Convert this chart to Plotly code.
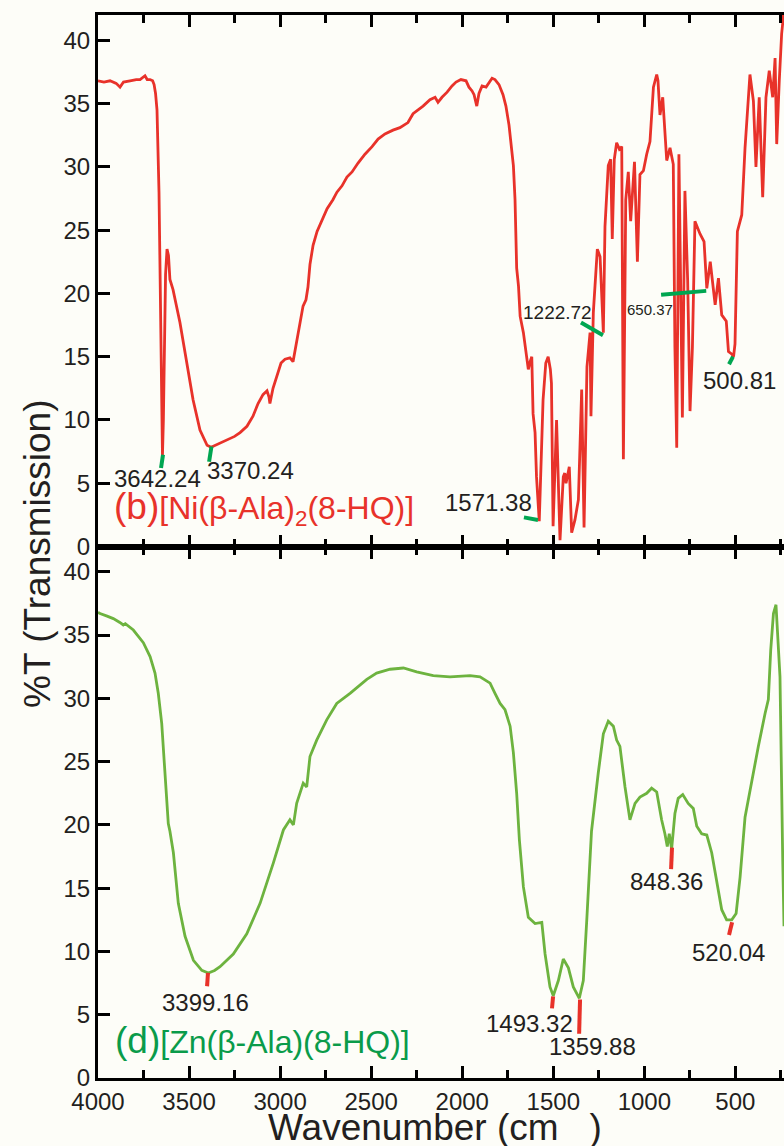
import plotly.graph_objects as go

# ---------------- data ----------------
ni_wavenumber = [4000, 3967, 3934, 3900, 3879, 3860, 3824, 3790, 3769, 3742, 3730, 3714, 3700, 3692, 3684,
                 3676, 3665, 3657, 3651, 3646, 3641, 3636, 3629, 3621, 3613, 3605, 3588, 3572, 3550, 3530,
                 3511, 3478, 3440, 3401, 3379, 3357, 3330, 3292, 3250, 3220, 3182, 3149, 3121, 3094, 3072,
                 3061, 3056, 3039, 3017, 2995, 2973, 2946, 2929, 2913, 2896, 2874, 2858, 2847, 2836, 2819,
                 2797, 2770, 2742, 2710, 2688, 2660, 2633, 2605, 2572, 2534, 2495, 2462, 2424, 2380, 2342,
                 2298, 2270, 2215, 2177, 2149, 2133, 2111, 2083, 2056, 2034, 2007, 1979, 1963, 1946, 1935,
                 1920, 1908, 1891, 1869, 1853, 1836, 1820, 1798, 1776, 1760, 1743, 1729, 1719, 1710, 1704,
                 1701, 1691, 1682, 1664, 1646, 1637, 1627, 1618, 1611, 1600, 1592, 1577, 1556, 1541, 1528,
                 1516, 1510, 1501, 1482, 1463, 1445, 1437, 1430, 1412, 1399, 1381, 1362, 1344, 1331, 1315,
                 1298, 1293, 1280, 1271, 1258, 1243, 1234, 1225, 1216, 1198, 1185, 1176, 1165, 1152, 1137,
                 1124, 1115, 1102, 1088, 1075, 1054, 1038, 1024, 1005, 987, 969, 950, 932, 925, 914,
                 899, 877, 859, 841, 832, 822, 810, 799, 791, 777, 762, 749, 736, 722, 694,
                 672, 657, 638, 611, 593, 575, 550, 538, 519, 510, 502, 489, 465, 447, 420,
                 401, 387, 369, 350, 332, 314, 295, 282, 273, 259, 246, 237, 230]
ni_transmission = [36.8, 36.7, 36.8, 36.6, 36.3, 36.7, 36.8, 36.9, 36.9, 37.2, 36.9, 36.9, 36.8, 36.5, 35.8,
                   34.5, 28.0, 18.0, 9.0, 7.2, 10.0, 15.5, 21.5, 23.5, 23.0, 21.1, 20.3, 19.2, 17.7, 16.0,
                   14.5, 11.6, 9.2, 8.0, 7.85, 8.0, 8.2, 8.4, 8.7, 9.0, 9.5, 10.3, 11.3, 12.0, 12.3,
                   11.8, 11.3, 12.5, 13.5, 14.5, 14.8, 14.9, 14.6, 15.8, 17.3, 19.0, 19.5, 20.5, 22.3, 23.8,
                   24.9, 25.8, 26.7, 27.4, 28.0, 28.5, 29.2, 29.6, 30.3, 31.0, 31.6, 32.2, 32.6, 32.9, 33.1,
                   33.5, 34.2, 34.8, 35.3, 35.5, 35.1, 35.5, 35.9, 36.4, 36.7, 36.9, 36.8, 36.3, 36.0, 35.7,
                   34.8, 35.8, 36.4, 36.3, 36.6, 37.0, 36.9, 36.5, 35.7, 34.8, 33.3, 31.5, 30.1, 27.4, 24.8,
                   22.0, 20.6, 18.2, 16.9, 15.0, 14.0, 14.6, 15.0, 10.5, 9.0, 5.5, 2.0, 11.6, 14.5, 15.0,
                   14.0, 12.9, 1.6, 10.0, 0.5, 5.5, 5.8, 5.0, 6.3, 1.1, 2.1, 3.7, 12.4, 1.5, 14.2,
                   16.9, 10.3, 18.5, 20.6, 23.5, 22.9, 19.5, 16.9, 25.3, 30.1, 30.6, 24.3, 30.6, 31.9, 31.4,
                   31.6, 6.9, 27.4, 29.6, 25.7, 30.4, 22.5, 29.4, 29.7, 31.0, 32.0, 36.3, 37.3, 36.8, 34.1,
                   35.5, 30.5, 31.5, 30.2, 15.7, 7.8, 31.0, 18.3, 10.2, 28.1, 21.0, 10.7, 15.7, 25.7, 24.7,
                   24.1, 20.4, 22.5, 19.1, 21.2, 18.3, 17.8, 15.4, 15.2, 15.0, 16.0, 24.9, 26.2, 31.5, 37.3,
                   35.2, 30.0, 35.5, 27.6, 35.5, 37.6, 35.5, 38.6, 31.8, 36.8, 40.5, 41.8, 43.0]

zn_wavenumber = [4000, 3989, 3950, 3916, 3880, 3861, 3850, 3806, 3751, 3714, 3687, 3669, 3650, 3632, 3614,
                 3605, 3586, 3559, 3522, 3476, 3430, 3394, 3360, 3330, 3257, 3183, 3110, 3037, 2982, 2946,
                 2927, 2909, 2873, 2854, 2836, 2799, 2744, 2689, 2616, 2524, 2470, 2396, 2342, 2323, 2250,
                 2159, 2067, 1957, 1902, 1847, 1820, 1792, 1765, 1737, 1719, 1701, 1686, 1664, 1637, 1600,
                 1563, 1545, 1518, 1500, 1472, 1445, 1417, 1390, 1357, 1335, 1316, 1298, 1290, 1253, 1225,
                 1198, 1170, 1152, 1134, 1106, 1079, 1051, 1024, 987, 960, 932, 905, 887, 874, 863,
                 850, 832, 814, 789, 759, 731, 712, 685, 657, 630, 603, 575, 548, 520, 496,
                 474, 447, 410, 374, 337, 319, 306, 291, 277, 264, 255, 240, 233]
zn_transmission = [36.8, 36.7, 36.5, 36.3, 36.0, 35.8, 35.9, 35.4, 34.4, 33.3, 32.0, 30.4, 28.0, 24.1, 20.1,
                   19.5, 17.8, 13.8, 11.2, 9.3, 8.5, 8.3, 8.5, 8.8, 9.8, 11.4, 13.8, 17.0, 19.6, 20.4,
                   20.0, 21.7, 23.3, 23.0, 25.4, 26.7, 28.3, 29.6, 30.4, 31.5, 32.0, 32.3, 32.4, 32.4, 32.1,
                   31.8, 31.7, 31.8, 31.7, 31.2, 30.4, 29.6, 29.1, 27.8, 25.7, 22.5, 18.8, 15.1, 12.7, 12.2,
                   12.3, 9.8, 7.2, 6.5, 7.7, 9.4, 8.7, 7.2, 6.3, 7.7, 12.5, 17.8, 19.5, 24.1, 27.2,
                   28.2, 27.8, 26.7, 26.2, 23.0, 20.4, 21.7, 22.2, 22.5, 22.9, 22.6, 20.4, 19.3, 18.3, 19.3,
                   18.1, 20.9, 22.1, 22.4, 21.7, 21.3, 19.9, 19.3, 19.2, 17.8, 15.6, 13.3, 12.5, 12.5, 13.0,
                   15.9, 20.6, 23.6, 26.2, 28.8, 29.9, 33.8, 36.7, 37.4, 34.4, 31.7, 17.2, 12.0]

x_tick_values = [4000, 3500, 3000, 2500, 2000, 1500, 1000, 500]
x_tick_labels = ["4000", "3500", "3000", "2500", "2000", "1500", "1000", "500"]
y_tick_values = [0, 5, 10, 15, 20, 25, 30, 35, 40]

ni_peak_labels = ["3642.24", "3370.24", "1571.38", "1222.72", "650.37", "500.81"]
zn_peak_labels = ["3399.16", "1493.32", "1359.88", "848.36", "520.04"]

# ---------------- styles ----------------
RED = "#e8322a"
GREEN = "#6db33f"
DARK_GREEN = "#0a9b4a"
MARK_GREEN = "#00a651"
INK = "#231f20"
BG = "#fdfdf8"
FONT = "Liberation Sans, Arial, sans-serif"

fig = go.Figure()
fig.add_trace(go.Scatter(x=ni_wavenumber, y=ni_transmission, mode="lines",
                         line=dict(color=RED, width=2.8), xaxis="x", yaxis="y",
                         showlegend=False, hoverinfo="skip"))
fig.add_trace(go.Scatter(x=zn_wavenumber, y=zn_transmission, mode="lines",
                         line=dict(color=GREEN, width=2.8), xaxis="x2", yaxis="y2",
                         showlegend=False, hoverinfo="skip"))

axis_common = dict(showline=True, linewidth=3, linecolor="black", ticks="inside",
                   tickwidth=3, tickcolor="black", showgrid=False, zeroline=False)

xcommon = dict(axis_common, range=[4000, 233], tickvals=x_tick_values, ticktext=x_tick_labels,
               ticklen=12, mirror="ticks",
               minor=dict(dtick=250, tick0=0, ticklen=8, tickwidth=3, ticks="inside", tickcolor="black"))
ycommon = dict(axis_common, range=[0, 42], tickvals=y_tick_values, ticklen=12,
               tickfont=dict(family=FONT, size=24, color=INK))

fig.update_layout(
    width=784, height=1146,
    margin=dict(l=98, r=0, t=15, b=68),
    paper_bgcolor=BG, plot_bgcolor=BG,
    font=dict(family=FONT, color=INK),
    xaxis=dict(xcommon, anchor="y", showticklabels=False),
    yaxis=dict(ycommon, domain=[0.5, 1], anchor="x"),
    xaxis2=dict(xcommon, anchor="y2", matches="x", showticklabels=True,
                tickfont=dict(family=FONT, size=24, color=INK)),
    yaxis2=dict(ycommon, domain=[0, 0.5], anchor="x2"),
)

# peak leader segments: (x0, y0, x1, y1) in data units
ni_marks = [(3643, 7.25, 3654, 6.2), (3377, 7.9, 3390, 6.7), (1661, 2.3, 1584, 2.1),
            (1348, 17.7, 1227, 16.7), (908, 19.9, 660, 20.2), (535, 14.4, 513, 15.0)]
zn_marks = [(3396, 8.3, 3401, 7.25), (1501, 6.45, 1507, 5.5), (1353, 6.2, 1358, 3.5),
            (848, 18.2, 853, 16.5), (518, 12.3, 535, 11.3)]
for (x0, y0, x1, y1) in ni_marks:
    fig.add_shape(type="line", xref="x", yref="y", x0=x0, y0=y0, x1=x1, y1=y1,
                  line=dict(color=MARK_GREEN, width=4))
for (x0, y0, x1, y1) in zn_marks:
    fig.add_shape(type="line", xref="x2", yref="y2", x0=x0, y0=y0, x1=x1, y1=y1,
                  line=dict(color=RED, width=4))

# peak label positions (center) and sizes
ni_label_pos = [(3673, 5.35, 24), (3165, 6.0, 24), (1856, 3.45, 24),
                (1479, 18.5, 19), (969, 18.7, 15), (480, 13.1, 24)]
zn_label_pos = [(3407, 5.97, 24), (1628, 4.33, 24), (1282, 2.5, 24),
                (878, 15.5, 24), (538, 9.9, 24)]
for text, (x, y, s) in zip(ni_peak_labels, ni_label_pos):
    fig.add_annotation(xref="x", yref="y", x=x, y=y, text=text, showarrow=False,
                       xanchor="center", yanchor="middle", font=dict(size=s, color=INK, family=FONT))
for text, (x, y, s) in zip(zn_peak_labels, zn_label_pos):
    fig.add_annotation(xref="x2", yref="y2", x=x, y=y, text=text, showarrow=False,
                       xanchor="center", yanchor="middle", font=dict(size=s, color=INK, family=FONT))

# sample labels
fig.add_annotation(xref="x", yref="y", x=3925, y=3.0, xanchor="left", yanchor="middle",
                   showarrow=False,
                   text="<span style='font-size:37px'>(b)</span>[Ni(β-Ala)<sub>2</sub>(8-HQ)]",
                   font=dict(size=32, color=RED, family=FONT))
fig.add_annotation(xref="x2", yref="y2", x=3920, y=3.0, xanchor="left", yanchor="middle",
                   showarrow=False,
                   text="<span style='font-size:37px'>(d)</span>[Zn(β-Ala)(8-HQ)]",
                   font=dict(size=32, color=DARK_GREEN, family=FONT))

# axis titles
fig.add_annotation(xref="paper", yref="paper", x=-0.0875, y=0.493, textangle=-90,
                   xanchor="center", yanchor="middle", showarrow=False,
                   text="%T (Transmission)",
                   font=dict(size=37, color=INK, family=FONT))
fig.add_annotation(xref="paper", yref="paper", x=0.491, y=-0.047,
                   xanchor="center", yanchor="middle", showarrow=False,
                   text="Wavenumber (cm\u00a0\u00a0\u00a0)",
                   font=dict(size=37, color=INK, family=FONT))

fig.write_html("out.html", config={"displayModeBar": False},
               post_script="document.body.style.margin='0';document.body.style.overflow='hidden';")
